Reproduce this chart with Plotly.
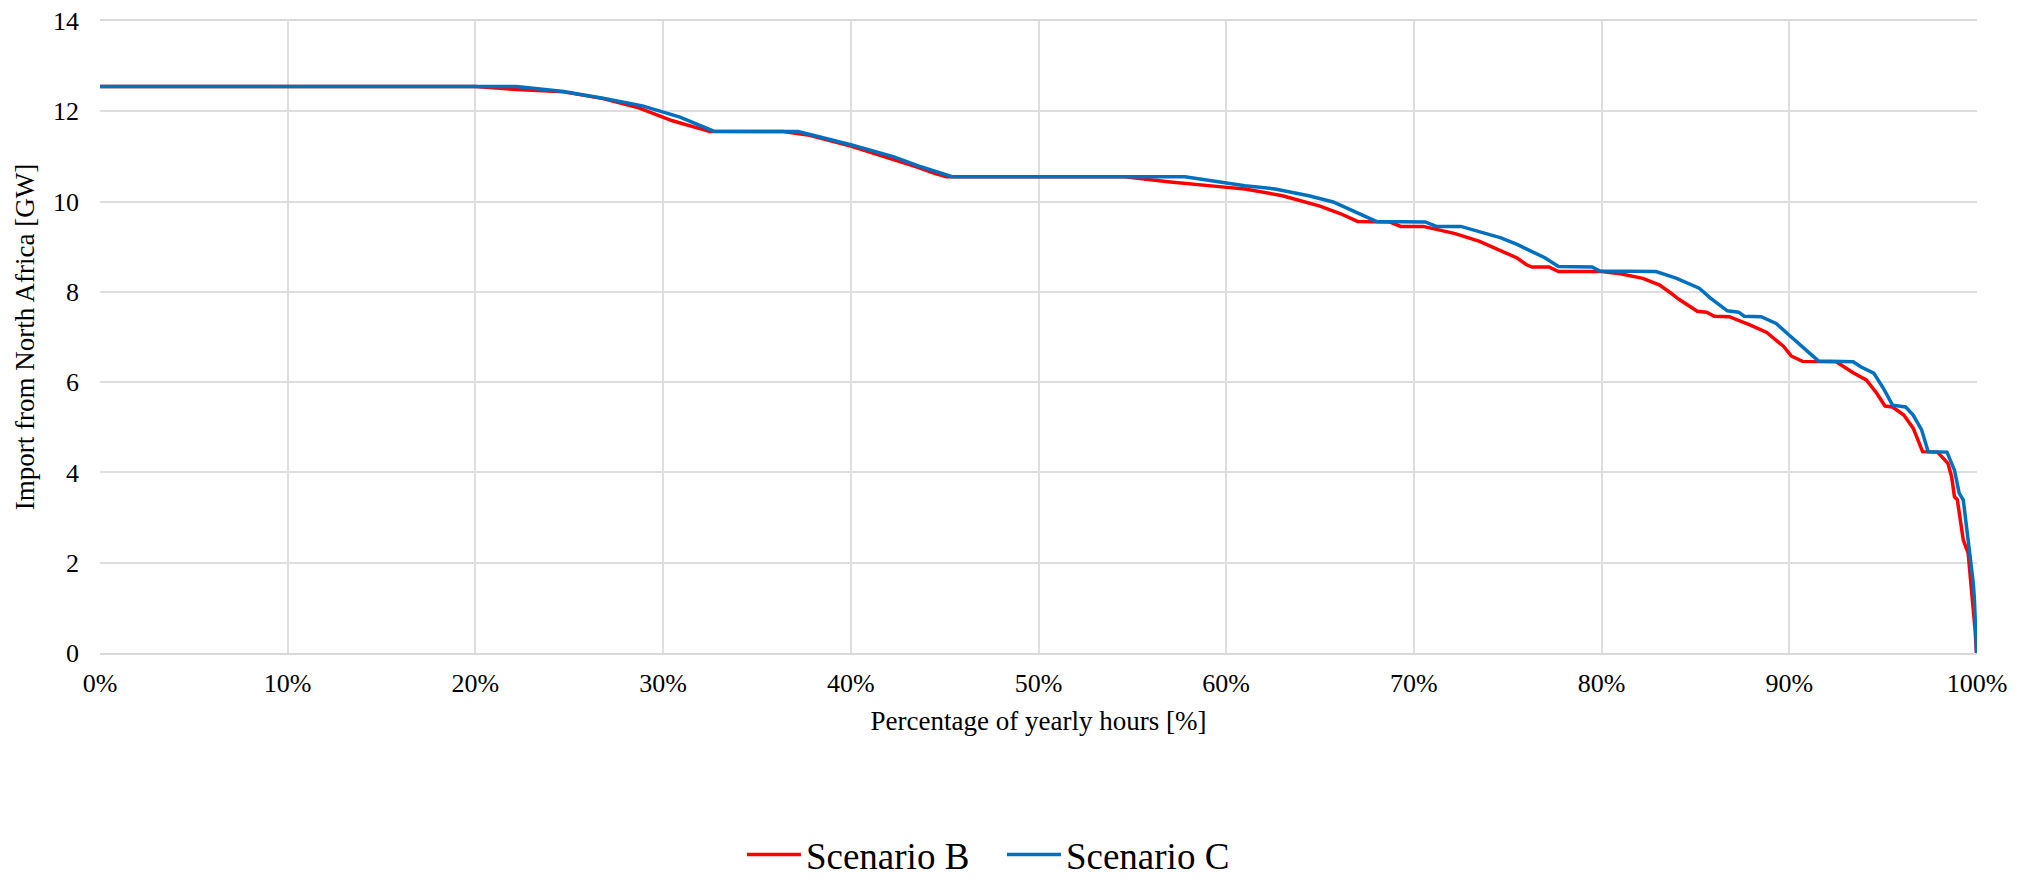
import plotly.graph_objects as go

# Percentage of yearly hours [%] and import [GW]
x_b = [0, 20, 22.2, 24.7, 26.8, 28.6, 30.5, 32.1, 32.5, 36.4, 37.8, 40.0, 41.0, 42.0, 43.5, 44.5, 45.1,
       54.6, 56.9, 59.9, 61.0, 63.0, 65.0, 66.1, 67.0, 68.7, 69.3, 70.5, 72.2, 73.5, 74.6, 75.5, 76.0, 76.3,
       77.2, 77.7, 80.0, 81.0, 82.2, 83.1, 83.7, 84.1, 85.1, 85.6, 86.0, 86.8, 87.9, 88.8, 89.7, 90.1, 90.7,
       92.5, 93.4, 94.1, 94.65, 95.1, 95.5, 96.1, 96.6, 97.1, 97.9, 98.45, 98.65, 98.8, 98.95, 99.27, 99.53,
       99.7, 99.9, 99.97]
y_b = [12.55, 12.55, 12.48, 12.43, 12.28, 12.09, 11.79, 11.6, 11.55, 11.55, 11.47, 11.23, 11.1, 10.98, 10.77, 10.62, 10.55,
       10.55, 10.44, 10.32, 10.28, 10.13, 9.9, 9.73, 9.56, 9.55, 9.45, 9.45, 9.29, 9.12, 8.92, 8.75, 8.6, 8.55,
       8.55, 8.45, 8.45, 8.4, 8.3, 8.15, 7.97, 7.84, 7.57, 7.55, 7.46, 7.45, 7.27, 7.1, 6.79, 6.58, 6.46,
       6.45, 6.21, 6.05, 5.76, 5.47, 5.45, 5.27, 4.98, 4.46, 4.45, 4.2, 3.9, 3.46, 3.4, 2.5, 2.21,
       1.47, 0.5, 0.0]

x_c = [0, 22.2, 24.7, 26.8, 28.9, 30.9, 32.7, 37.2, 40.0, 42.3, 43.6, 44.7, 45.4, 57.8, 59.5, 61.0, 62.6,
       64.4, 65.7, 66.7, 68.0, 70.6, 71.2, 72.5, 73.2, 74.6, 75.5, 76.2, 77.0, 77.7, 79.5, 79.9, 82.9, 84.0,
       85.2, 85.8, 86.7, 87.3, 87.6, 88.5, 89.3, 90.0, 90.6, 91.3, 91.55, 93.4, 93.8, 94.5, 95.0, 95.5, 96.2,
       96.6, 97.05, 97.4, 98.4, 98.8, 99.05, 99.27, 99.45, 99.63, 99.8, 99.86, 99.98]
y_c = [12.55, 12.55, 12.44, 12.29, 12.12, 11.87, 11.56, 11.55, 11.26, 10.99, 10.79, 10.65, 10.55, 10.55, 10.45, 10.35, 10.28,
       10.13, 9.99, 9.8, 9.56, 9.55, 9.45, 9.45, 9.36, 9.2, 9.05, 8.92, 8.75, 8.56, 8.55, 8.46, 8.45, 8.3,
       8.08, 7.86, 7.58, 7.55, 7.46, 7.45, 7.3, 7.04, 6.82, 6.57, 6.47, 6.45, 6.34, 6.2, 5.87, 5.49, 5.45,
       5.27, 4.94, 4.46, 4.45, 4.05, 3.54, 3.39, 2.8, 2.21, 1.55, 1.2, 0.0]

names = ["Scenario B", "Scenario C"]
colors = ["#FF0000", "#0070C0"]

x_ticks = [0, 10, 20, 30, 40, 50, 60, 70, 80, 90, 100]
x_ticktext = [f"{v}%" for v in x_ticks]
y_ticks = [0, 2, 4, 6, 8, 10, 12, 14]

FONT = "Liberation Serif, Times New Roman, serif"
GRID = "#DEDEDE"

fig = go.Figure()
fig.add_trace(go.Scatter(x=x_b, y=y_b, mode="lines", name=names[0],
                         line=dict(color=colors[0], width=3.5)))
fig.add_trace(go.Scatter(x=x_c, y=y_c, mode="lines", name=names[1],
                         line=dict(color=colors[1], width=3.5)))

# The page body adds an 8px offset, so the figure is 8px smaller on each axis
fig.update_layout(
    width=2015, height=870,
    margin=dict(l=92, r=46, t=13, b=225, autoexpand=False),
    paper_bgcolor="white", plot_bgcolor="white",
    font=dict(family=FONT, color="black", size=26),
    showlegend=True,
    legend=dict(orientation="h", x=0.342, xanchor="left", y=-0.3196, yanchor="middle",
                font=dict(family=FONT, size=37, color="black"),
                itemwidth=54, entrywidth=191, entrywidthmode="pixels",
                bgcolor="rgba(0,0,0,0)"),
)
fig.update_xaxes(
    range=[0, 100], tickvals=x_ticks, ticktext=x_ticktext,
    showgrid=True, gridcolor=GRID, gridwidth=1.5,
    showline=True, mirror=True, linecolor="#D9D9D9", linewidth=1.5,
    zeroline=False, ticks="", ticklabelstandoff=6, ticklabeloverflow="allow",
    tickfont=dict(family=FONT, size=26, color="black"),
    title=dict(text="Percentage of yearly hours [%]", standoff=14,
               font=dict(family=FONT, size=27, color="black")),
)
fig.update_yaxes(
    range=[0, 14], tickvals=y_ticks,
    showgrid=True, gridcolor=GRID, gridwidth=1.5,
    showline=False, zeroline=False, ticks="", ticklabelstandoff=20,
    ticklabeloverflow="allow",
    tickfont=dict(family=FONT, size=26, color="black"),
    title=dict(text="Import from North Africa [GW]", standoff=10,
               font=dict(family=FONT, size=27, color="black")),
)

fig.write_html("out.html")
